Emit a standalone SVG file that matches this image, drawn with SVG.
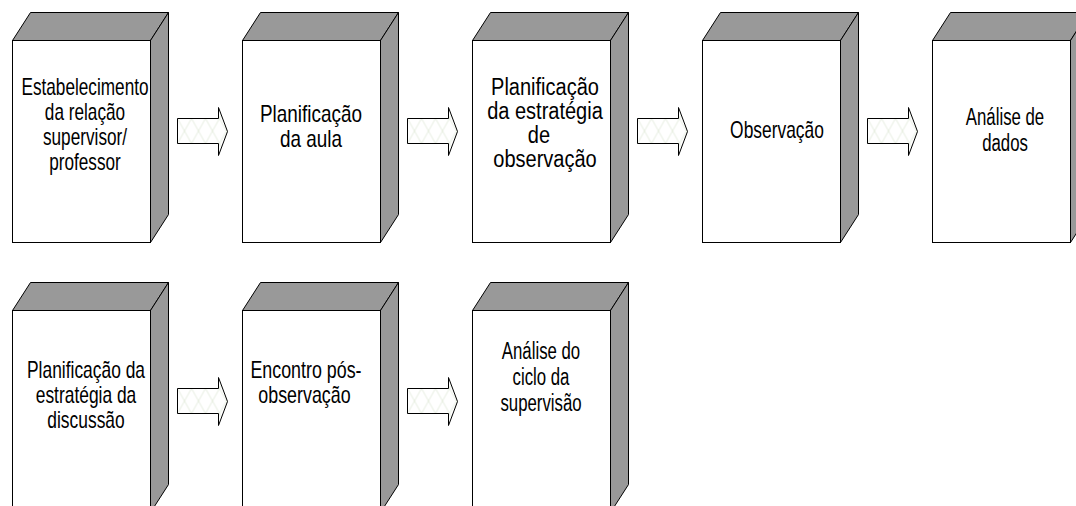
<svg xmlns="http://www.w3.org/2000/svg" width="1076" height="506" viewBox="0 0 1076 506">
<defs>
<style>
.front{fill:#ffffff;stroke:#000000;stroke-width:1}
.shade{fill:#999999;stroke:#000000;stroke-width:1;stroke-linejoin:miter}
.lbl{font-family:"Liberation Sans",Arial,sans-serif;font-size:23px;fill:#000000;text-anchor:middle}
.arrow{fill:url(#hatch);stroke:#000000;stroke-width:1}
</style>
<pattern id="hatch" patternUnits="userSpaceOnUse" x="0" y="11" width="14" height="25">
<rect width="14" height="25" fill="#ffffff"/>
<path d="M0,0 L14,25 M14,0 L0,25" stroke="#e6ede0" stroke-width="1" fill="none"/>
</pattern>
</defs>
<rect width="1076" height="506" fill="#ffffff"/>

<g id="connectors">
<path class="arrow" transform="translate(177.5,107.5)" d="M0,11 H41 V0 L50,24 L41,48 V36 H0 Z"/>
<path class="arrow" transform="translate(407.5,107.5)" d="M0,11 H41 V0 L50,24 L41,48 V36 H0 Z"/>
<path class="arrow" transform="translate(637.5,107.5)" d="M0,11 H41 V0 L50,24 L41,48 V36 H0 Z"/>
<path class="arrow" transform="translate(867.5,107.5)" d="M0,11 H41 V0 L50,24 L41,48 V36 H0 Z"/>
<path class="arrow" transform="translate(177.5,377.5)" d="M0,11 H41 V0 L50,24 L41,48 V36 H0 Z"/>
<path class="arrow" transform="translate(407.5,377.5)" d="M0,11 H41 V0 L50,24 L41,48 V36 H0 Z"/>
</g>

<g id="node1">
<polygon class="shade" points="12.5,40.5 30.5,12.5 168.5,12.5 150.5,40.5"/>
<polygon class="shade" points="150.5,40.5 168.5,12.5 168.5,214.5 150.5,242.5"/>
<rect class="front" x="12.5" y="40.5" width="138" height="202"/>
<g transform="translate(85,0) scale(0.748,1)">
<text class="lbl" x="0" y="95">Estabelecimento</text>
<text class="lbl" x="0" y="120">da relação</text>
<text class="lbl" x="0" y="145">supervisor/</text>
<text class="lbl" x="0" y="170">professor</text>
</g>
</g>

<g id="node2">
<polygon class="shade" points="242.5,40.5 260.5,12.5 398.5,12.5 380.5,40.5"/>
<polygon class="shade" points="380.5,40.5 398.5,12.5 398.5,214.5 380.5,242.5"/>
<rect class="front" x="242.5" y="40.5" width="138" height="202"/>
<g transform="translate(311,0) scale(0.823,1)">
<text class="lbl" x="0" y="122">Planificação</text>
<text class="lbl" x="0" y="147">da aula</text>
</g>
</g>

<g id="node3">
<polygon class="shade" points="472.5,40.5 490.5,12.5 628.5,12.5 610.5,40.5"/>
<polygon class="shade" points="610.5,40.5 628.5,12.5 628.5,214.5 610.5,242.5"/>
<rect class="front" x="472.5" y="40.5" width="138" height="202"/>
<g transform="translate(545,0) scale(0.87,1)">
<text class="lbl" x="0" y="95">Planificação</text>
<text class="lbl" x="0" y="119">da estratégia</text>
<text class="lbl" x="-7" y="143">de</text>
<text class="lbl" x="0" y="167">observação</text>
</g>
</g>

<g id="node4">
<polygon class="shade" points="702.5,40.5 720.5,12.5 858.5,12.5 840.5,40.5"/>
<polygon class="shade" points="840.5,40.5 858.5,12.5 858.5,214.5 840.5,242.5"/>
<rect class="front" x="702.5" y="40.5" width="138" height="202"/>
<g transform="translate(777,0) scale(0.757,1)">
<text class="lbl" x="0" y="138">Observação</text>
</g>
</g>

<g id="node5">
<polygon class="shade" points="932.5,40.5 950.5,12.5 1088.5,12.5 1070.5,40.5"/>
<polygon class="shade" points="1070.5,40.5 1088.5,12.5 1088.5,214.5 1070.5,242.5"/>
<rect class="front" x="932.5" y="40.5" width="138" height="202"/>
<g transform="translate(1005,0) scale(0.73,1)">
<text class="lbl" x="0" y="125">Análise de</text>
<text class="lbl" x="0" y="151">dados</text>
</g>
</g>

<g id="node6">
<polygon class="shade" points="12.5,310.5 30.5,282.5 168.5,282.5 150.5,310.5"/>
<polygon class="shade" points="150.5,310.5 168.5,282.5 168.5,484.5 150.5,512.5"/>
<rect class="front" x="12.5" y="310.5" width="138" height="202"/>
<g transform="translate(86,0) scale(0.757,1)">
<text class="lbl" x="0" y="378">Planificação da</text>
<text class="lbl" x="0" y="403">estratégia da</text>
<text class="lbl" x="0" y="428">discussão</text>
</g>
</g>

<g id="node7">
<polygon class="shade" points="242.5,310.5 260.5,282.5 398.5,282.5 380.5,310.5"/>
<polygon class="shade" points="380.5,310.5 398.5,282.5 398.5,484.5 380.5,512.5"/>
<rect class="front" x="242.5" y="310.5" width="138" height="202"/>
<g transform="translate(306,0) scale(0.776,1)">
<text class="lbl" x="0" y="378">Encontro pós-</text>
<text class="lbl" x="-2" y="403">observação</text>
</g>
</g>

<g id="node8">
<polygon class="shade" points="472.5,310.5 490.5,282.5 628.5,282.5 610.5,310.5"/>
<polygon class="shade" points="610.5,310.5 628.5,282.5 628.5,484.5 610.5,512.5"/>
<rect class="front" x="472.5" y="310.5" width="138" height="202"/>
<g transform="translate(541,0) scale(0.73,1)">
<text class="lbl" x="0" y="359">Análise do</text>
<text class="lbl" x="0" y="385">ciclo da</text>
<text class="lbl" x="0" y="411">supervisão</text>
</g>
</g>
</svg>
